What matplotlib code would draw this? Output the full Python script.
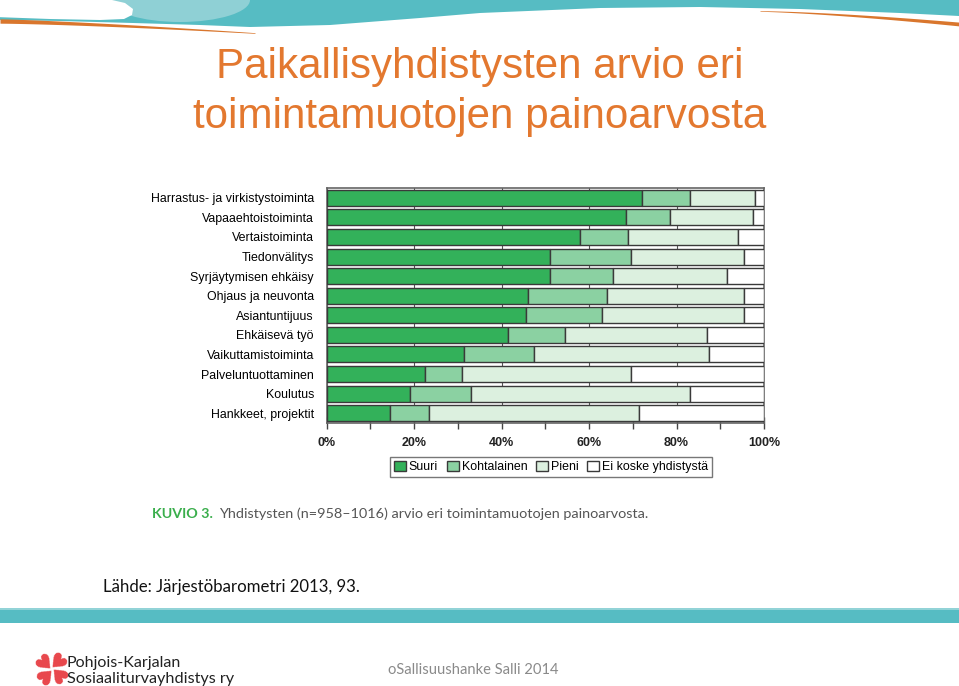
import numpy as np
import matplotlib
matplotlib.use("Agg")
import matplotlib.pyplot as plt
from matplotlib.patches import Polygon, Ellipse

# data (% of associations)
categories = [
    "Harrastus- ja virkistystoiminta",
    "Vapaaehtoistoiminta",
    "Vertaistoiminta",
    "Tiedonvälitys",
    "Syrjäytymisen ehkäisy",
    "Ohjaus ja neuvonta",
    "Asiantuntijuus",
    "Ehkäisevä työ",
    "Vaikuttamistoiminta",
    "Palveluntuottaminen",
    "Koulutus",
    "Hankkeet, projektit",
]
suuri = [72, 68.5, 58, 51, 51, 46, 45.5, 41.5, 31.5, 22.5, 19, 14.5]
kohtalainen = [11, 10, 11, 18.5, 14.5, 18, 17.5, 13, 16, 8.5, 14, 9]
pieni = [15, 19, 25, 26, 26, 31.5, 32.5, 32.5, 40, 38.5, 50, 48]
ei_koske = [100 - a - b - c for a, b, c in zip(suuri, kohtalainen, pieni)]
series_names = ["Suuri", "Kohtalainen", "Pieni", "Ei koske yhdistystä"]
series_colors = ["#33b15a", "#8bd1a2", "#dcf0df", "#ffffff"]
tick_values = [0, 20, 40, 60, 80, 100]

title_lines = ["Paikallisyhdistysten arvio eri", "toimintamuotojen painoarvosta"]
orange = "#e3782f"
teal = "#56bcc3"

W, H = 959, 686
fig = plt.figure(figsize=(W / 100, H / 100), dpi=100)

# background layer in pixel coordinates
bg = fig.add_axes([0, 0, 1, 1])
bg.set_xlim(0, W)
bg.set_ylim(H, 0)
bg.axis("off")

# top wave decoration
wx = [0, 60, 133, 200, 250, 330, 420, 480, 600, 700, 800, 900, 959, 959, 0]
wy = [20, 21, 23, 25, 27, 25, 18, 13, 8, 7, 9, 13, 16, -5, -5]
bg.add_patch(Polygon(list(zip(wx, wy)), closed=True, color=teal, lw=0))
bg.add_patch(Ellipse((180, 0), 140, 44, color="#8fd0d5", lw=0))
blob = [(-5, -5), (112, -5), (112, 0), (125, 3), (133, 9), (132, 15), (124, 19),
        (100, 20), (50, 19), (-5, 17)]
bg.add_patch(Polygon(blob, closed=True, color="white", lw=0))
ox = np.linspace(0, 255, 40)
oy = 21 + 12 * (ox / 255) ** 1.3
th = 2.2 * (1 - ox / 300)
bg.fill_between(ox, oy - th, oy + th, color="#d9762d", lw=0)
ox2 = np.linspace(760, 959, 30)
oy2 = 11 + 13 * ((ox2 - 760) / 199) ** 1.4
th2 = 0.3 + 1.6 * (ox2 - 760) / 199
bg.fill_between(ox2, oy2 - th2, oy2 + th2, color="#d9762d", lw=0)

# bottom band
bg.add_patch(Polygon([(0, 608), (W, 608), (W, 623), (0, 623)], closed=True,
                     color=teal, lw=0))
bg.plot([0, W], [609, 609], color="#9fd8dc", lw=1.2)

# title
for i, line in enumerate(title_lines):
    bg.text(480, 78 + 50 * i, line, ha="center", va="baseline", fontsize=30.3,
            color=orange, family="Liberation Sans")

bg.text(103, 592, "Lähde: Järjestöbarometri 2013, 93.", fontsize=12.1,
        color="#111111", family="Lato", va="baseline")

# caption
bg.text(152, 518, "KUVIO 3.", fontsize=10.3, color="#3aae4c", weight="bold",
        family="Lato", va="baseline")
bg.text(219, 518, "Yhdistysten (n=958–1016) arvio eri toimintamuotojen painoarvosta.",
        fontsize=10.35, color="#555555", family="Lato", va="baseline")

# footer logo and texts
for (dx, dy, rot) in [(-4.5, -4.5, 45), (4.5, -4.5, -45), (-4.5, 4.5, 135), (4.5, 4.5, -135)]:
    bg.text(50 + dx, 668 + dy, "\u2665", fontsize=15, color="#e8464b",
            ha="center", va="center", rotation=rot, family="DejaVu Sans")
bg.text(67, 667, "Pohjois-Karjalan", fontsize=11.5, color="#222222",
        family="Lato", va="baseline")
bg.text(67, 683, "Sosiaaliturvayhdistys ry", fontsize=11.7, color="#222222",
        family="Lato", va="baseline")
bg.text(388, 674, "oSallisuushanke Salli 2014", fontsize=10.6, color="#8a8a8a",
        family="Lato", va="baseline")

# chart
ax = fig.add_axes([326.5 / W, 1 - 423 / H, 437.5 / W, 235 / H])
y = np.arange(len(categories))
left = np.zeros(len(categories))
for name, vals, col in zip(series_names, [suuri, kohtalainen, pieni, ei_koske],
                           series_colors):
    ax.barh(y, vals, left=left, height=0.82, color=col, edgecolor="#3a3a3a",
            linewidth=1.0, label=name, zorder=3)
    left += np.array(vals)

ax.set_xlim(0, 100)
ax.set_ylim(len(categories) - 0.5, -0.5)
ax.set_yticks(y)
ax.set_yticklabels(categories, fontsize=8.9, family="Liberation Sans", color="#000000")
ax.tick_params(axis="y", length=0, pad=9)
ax.set_xticks(tick_values)
ax.set_xticklabels([f"{v}%" for v in tick_values], fontsize=9, weight="bold",
                   family="Liberation Sans", color="#222222")
ax.set_xticks(np.arange(10, 100, 20), minor=True)
ax.tick_params(axis="x", which="both", direction="inout", length=8, width=1,
               color="#444444", pad=6)
ax.grid(axis="x", color="#555555", lw=0.8, zorder=0)
for s in ax.spines.values():
    s.set_color("#666666")
    s.set_linewidth(1.2)

leg = fig.legend(loc="center", bbox_to_anchor=(551 / W, 1 - 467 / H), ncol=4,
                 frameon=True, fancybox=False, handlelength=1.0,
                 handleheight=0.85, handletextpad=0.2, columnspacing=0.7,
                 borderpad=0.3, prop={"family": "Liberation Sans", "size": 8.9})
leg.get_frame().set_edgecolor("#555555")
leg.get_frame().set_linewidth(1)

fig.savefig("out.png", dpi=100)
